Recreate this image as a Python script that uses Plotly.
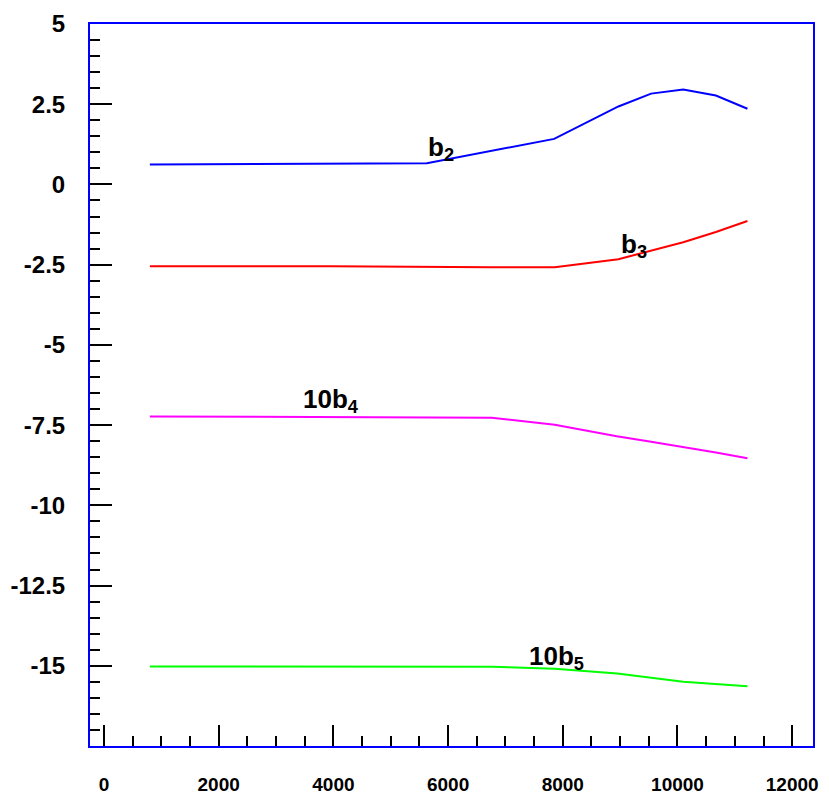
import plotly.graph_objects as go

# ---- data ----
x_b2 = [800, 5630, 7850, 8970, 9540, 10100, 10670, 11220]
y_b2 = [0.62, 0.66, 1.42, 2.43, 2.83, 2.96, 2.77, 2.36]

x_b3 = [800, 3950, 6750, 7860, 8970, 9540, 10100, 10670, 11220]
y_b3 = [-2.55, -2.55, -2.58, -2.58, -2.33, -2.07, -1.80, -1.48, -1.14]

x_b4 = [800, 6760, 7860, 8940, 9540, 10100, 10670, 11220]
y_b4 = [-7.23, -7.27, -7.49, -7.85, -8.02, -8.18, -8.35, -8.53]

x_b5 = [800, 6760, 7860, 8950, 10100, 11220]
y_b5 = [-15.02, -15.03, -15.09, -15.24, -15.50, -15.64]

series_names = ["b2", "b3", "10b4", "10b5"]
series_colors = ["#0000ff", "#ff0000", "#ff00ff", "#00ff00"]

label_texts = ["<b>b<sub>2</sub></b>", "<b>b<sub>3</sub></b>",
               "<b>10b<sub>4</sub></b>", "<b>10b<sub>5</sub></b>"]
label_x = [5876, 9247, 3958, 7887]
label_y = [1.11, -1.90, -6.74, -14.73]

x_tickvals = [0, 2000, 4000, 6000, 8000, 10000, 12000]
x_ticktext = ["0", "2000", "4000", "6000", "8000", "10000", "12000"]
y_tickvals = [5, 2.5, 0, -2.5, -5, -7.5, -10, -12.5, -15]
y_ticktext = ["5", "2.5", "0", "-2.5", "-5", "-7.5", "-10", "-12.5", "-15"]

fig = go.Figure()
for xs, ys, name, col in zip([x_b2, x_b3, x_b4, x_b5], [y_b2, y_b3, y_b4, y_b5],
                             series_names, series_colors):
    fig.add_trace(go.Scatter(x=xs, y=ys, mode="lines", name=name,
                             line=dict(color=col, width=2), showlegend=False))

for t, lx, ly in zip(label_texts, label_x, label_y):
    fig.add_annotation(x=lx, y=ly, text=t, showarrow=False,
                       xanchor="center", yanchor="middle",
                       font=dict(family="Liberation Sans, Arial", size=26, color="black"))

fig.update_layout(
    width=829, height=794,
    margin=dict(l=90, r=16, t=24, b=48, autoexpand=False),
    paper_bgcolor="white", plot_bgcolor="white",
)
fig.update_xaxes(
    range=[-244, 12363], showgrid=False, zeroline=False, automargin=False,
    showline=True, linecolor="#0000ff", linewidth=2, mirror=True,
    ticks="inside", ticklen=21, tickwidth=2, tickcolor="black",
    tickvals=x_tickvals, ticktext=x_ticktext,
    ticklabelstandoff=20,
    tickfont=dict(family="Liberation Sans, Arial", size=19, color="black", weight="bold"),
    minor=dict(dtick=500, tick0=0, ticks="inside", ticklen=10, tickwidth=2, tickcolor="black", showgrid=False),
)
fig.update_yaxes(
    range=[-17.5, 5], showgrid=False, zeroline=False, automargin=False,
    showline=True, linecolor="#0000ff", linewidth=2, mirror=True,
    ticks="inside", ticklen=22, tickwidth=2, tickcolor="black",
    tickvals=y_tickvals, ticktext=y_ticktext,
    ticklabelstandoff=18,
    tickfont=dict(family="Liberation Sans, Arial", size=24, color="black", weight="bold"),
    minor=dict(dtick=0.5, tick0=0, ticks="inside", ticklen=10, tickwidth=2, tickcolor="black", showgrid=False),
)

fig.write_html("out.html")
